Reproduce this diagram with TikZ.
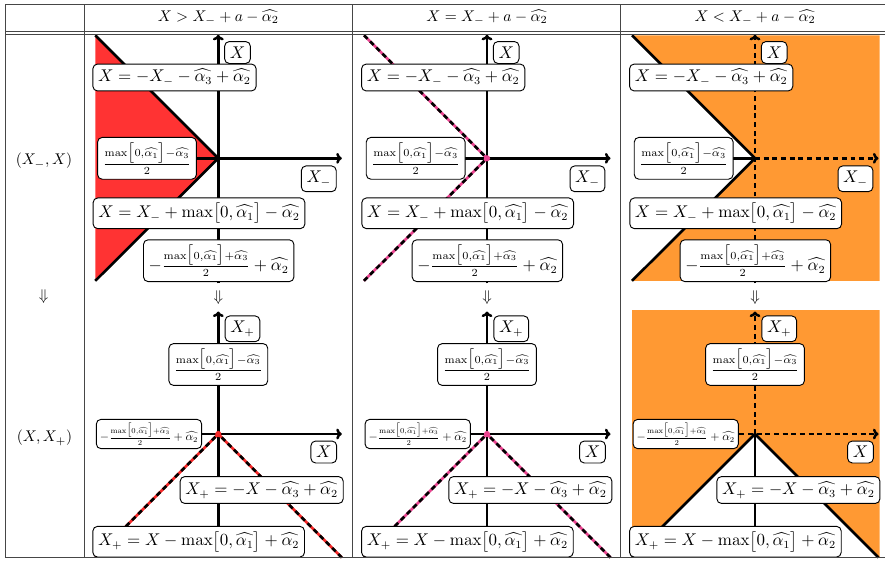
\documentclass[tikz,border=0pt]{standalone}
\usepackage{amsmath}
\usetikzlibrary{arrows.meta}

\definecolor{regionred}{RGB}{255,51,51}
\definecolor{regionorange}{RGB}{255,153,51}
\definecolor{edgepink}{RGB}{234,68,144}
\definecolor{edgered}{RGB}{245,40,40}
\definecolor{rulegray}{RGB}{70,70,70}

% recurring formulas
\newcommand{\maxpart}{\max\bigl[0,\widehat{\alpha_1}\bigr]}
\newcommand{\fracmid}{\frac{\maxpart-\widehat{\alpha_3}}{2}}
\newcommand{\fraclow}{-\frac{\maxpart+\widehat{\alpha_3}}{2}+\widehat{\alpha_2}}

\tikzset{
  lbl/.style={draw, fill=white, rounded corners=3pt, line width=0.6pt,
              font=\fontsize{10.5}{12.5}\selectfont},
  axisline/.style={line width=1.6pt},
  tipped/.style={-{To[length=3.6pt,width=7pt]}},
  bound/.style={line width=1.7pt},
  dashpat/.style={dash pattern=on 3.2pt off 2.4pt},
  rule/.style={rulegray, line width=0.6pt},
}

% reference points of a panel in the upper row (local units, y downwards)
\newcommand{\topcoords}{%
  \coordinate (o) at (0,0);
  \coordinate (ye) at (0,-123.5);
  \coordinate (ys) at (0,125);
  \coordinate (xs) at (-120,0);
  \coordinate (xe) at (123.5,0);
  \coordinate (ul) at (-123,-123);
  \coordinate (ll) at (-123,122.5);
}
% reference points of a panel in the lower row
\newcommand{\botcoords}{%
  \coordinate (o) at (0,0);
  \coordinate (ye) at (0,-122.5);
  \coordinate (ys) at (0,123.5);
  \coordinate (xs) at (-120,0);
  \coordinate (xe) at (123.5,0);
  \coordinate (dl) at (-123,123);
  \coordinate (dr) at (123.5,123.5);
}
% labels of the (X_-, X) plane
\newcommand{\toplabels}{%
  \node[lbl] (xl) at (19.2,-105.8) {$X$};
  \node[lbl] (la) at (-43.8,-80.8) {$X = -X_- - \widehat{\alpha_3} + \widehat{\alpha_2}$};
  \node[lbl] (fa) at (-71.3,0) {$\fracmid$};
  \node[lbl] (xm) at (100.5,20.5) {$X_-$};
  \node[lbl] (lb) at (-19.3,55) {$X = X_- + \maxpart - \widehat{\alpha_2}$};
  \node[lbl] (fb) at (0.4,102.4) {$\fraclow$};
}
% labels of the (X, X_+) plane
\newcommand{\botlabels}{%
  \node[lbl] (xp) at (24.2,-105.2) {$X_+$};
  \node[lbl] (fa) at (0,-69.5) {$\fracmid$};
  \node[lbl, scale=0.7] (fb) at (-69.3,0) {$\fraclow$};
  \node[lbl] (xl) at (105.5,18) {$X$};
  \node[lbl] (la) at (43.4,56) {$X_+ = -X - \widehat{\alpha_3} + \widehat{\alpha_2}$};
  \node[lbl] (lb) at (-19.6,107.7) {$X_+ = X - \maxpart + \widehat{\alpha_2}$};
}

\begin{document}
\begin{tikzpicture}[x=0.645pt,y=-0.645pt]
\useasboundingbox (0,0) rectangle (885,561);

% ---------- upper row: (X_-, X) ----------
\begin{scope}[shift={(218.3,158.3)}, name prefix=p11-]
  \topcoords
  \fill[regionred] (ul) -- (o) -- (ll) -- cycle;
  \draw[axisline,tipped] (ys) -- (ye);
  \draw[axisline,tipped] (xs) -- (xe);
  \draw[bound] (ul) -- (o) -- (ll);
  \toplabels
\end{scope}

\begin{scope}[shift={(487,158.3)}, name prefix=p12-]
  \topcoords
  \draw[axisline,tipped] (ys) -- (ye);
  \draw[axisline,tipped] (xs) -- (xe);
  \draw[bound,edgepink] (ul) -- (o) -- (ll);
  \draw[bound,dashpat] (ul) -- (o);
  \draw[bound,dashpat] (ll) -- (o);
  \fill[edgepink] (o) circle[radius=2pt];
  \toplabels
\end{scope}

\begin{scope}[shift={(755,158.3)}, name prefix=p13-]
  \topcoords
  \fill[regionorange] (ul) -- (124.5,-123) -- (124.5,122.5) -- (ll) -- (o) -- cycle;
  \draw[axisline] (xs) -- (o);
  \draw[axisline,dashpat,tipped] (o) -- (xe);
  \draw[axisline,dashpat,tipped] (ys) -- (ye);
  \draw[bound] (ul) -- (o) -- (ll);
  \toplabels
\end{scope}

% ---------- lower row: (X, X_+) ----------
\begin{scope}[shift={(218.3,434)}, name prefix=p21-]
  \botcoords
  \draw[axisline,tipped] (ys) -- (ye);
  \draw[axisline,tipped] (xs) -- (xe);
  \draw[bound,edgered] (dl) -- (o) -- (dr);
  \draw[bound,dashpat] (dl) -- (o);
  \draw[bound,dashpat] (dr) -- (o);
  \fill[edgered] (o) circle[radius=2pt];
  \botlabels
\end{scope}

\begin{scope}[shift={(487,434)}, name prefix=p22-]
  \botcoords
  \draw[axisline,tipped] (ys) -- (ye);
  \draw[axisline,tipped] (xs) -- (xe);
  \draw[bound,edgepink] (dl) -- (o) -- (dr);
  \draw[bound,dashpat] (dl) -- (o);
  \draw[bound,dashpat] (dr) -- (o);
  \fill[edgepink] (o) circle[radius=2pt];
  \botlabels
\end{scope}

\begin{scope}[shift={(755,434)}, name prefix=p23-]
  \botcoords
  \fill[regionorange] (-123,-124) -- (124.5,-124) -- (124.5,123.5) -- (dr) -- (o) -- (dl) -- cycle;
  \draw[axisline] (ys) -- (o);
  \draw[axisline,dashpat,tipped] (o) -- (ye);
  \draw[axisline,dashpat,tipped] (xs) -- (xe);
  \draw[bound] (dl) -- (o) -- (dr);
  \botlabels
\end{scope}

% ---------- table text ----------
\node (h1) at (218.3,17.5) {$X > X_- + a - \widehat{\alpha_2}$};
\node (h2) at (487,17.5) {$X = X_- + a - \widehat{\alpha_2}$};
\node (h3) at (755,17.5) {$X < X_- + a - \widehat{\alpha_2}$};
\node (r1) at (44,161) {$(X_-,X)$};
\node (rd) at (43.5,297) {$\Downarrow$};
\node (r2) at (44.5,438) {$(X,X_+)$};
\node (d1) at (218.3,298) {$\Downarrow$};
\node (d2) at (487,298) {$\Downarrow$};
\node (d3) at (755,298) {$\Downarrow$};

% ---------- table rules ----------
\draw[rule] (5,4) -- (885,4);
\draw[rule] (5,31) -- (885,31);
\draw[rule] (5,34) -- (885,34);
\draw[rule, line width=1pt] (5,557.5) -- (885,557.5);
\foreach \cx in {5,84,352,620}
  \draw[rule] (\cx,4) -- (\cx,558);
\end{tikzpicture}
\end{document}
